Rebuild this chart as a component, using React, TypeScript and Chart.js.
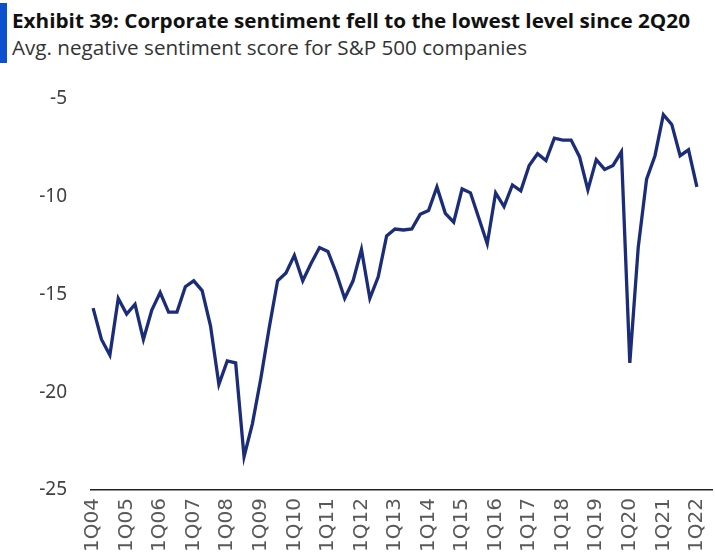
import { useEffect, useLayoutEffect, useRef } from "react";
import { Chart, registerables } from "chart.js";

Chart.register(...registerables);

const quarters = [
  "1Q04", "2Q04", "3Q04", "4Q04",
  "1Q05", "2Q05", "3Q05", "4Q05",
  "1Q06", "2Q06", "3Q06", "4Q06",
  "1Q07", "2Q07", "3Q07", "4Q07",
  "1Q08", "2Q08", "3Q08", "4Q08",
  "1Q09", "2Q09", "3Q09", "4Q09",
  "1Q10", "2Q10", "3Q10", "4Q10",
  "1Q11", "2Q11", "3Q11", "4Q11",
  "1Q12", "2Q12", "3Q12", "4Q12",
  "1Q13", "2Q13", "3Q13", "4Q13",
  "1Q14", "2Q14", "3Q14", "4Q14",
  "1Q15", "2Q15", "3Q15", "4Q15",
  "1Q16", "2Q16", "3Q16", "4Q16",
  "1Q17", "2Q17", "3Q17", "4Q17",
  "1Q18", "2Q18", "3Q18", "4Q18",
  "1Q19", "2Q19", "3Q19", "4Q19",
  "1Q20", "2Q20", "3Q20", "4Q20",
  "1Q21", "2Q21", "3Q21", "4Q21",
  "1Q22",
];

const sentiment = [
  -15.7, -17.3, -18.1, -15.2,
  -16.0, -15.5, -17.3, -15.8,
  -14.9, -15.9, -15.9, -14.6,
  -14.3, -14.8, -16.6, -19.6,
  -18.4, -18.5, -23.3, -21.6,
  -19.3, -16.7, -14.3, -13.9,
  -13.0, -14.3, -13.4, -12.6,
  -12.8, -13.9, -15.2, -14.3,
  -12.7, -15.2, -14.1, -12.0,
  -11.65, -11.7, -11.65, -10.9,
  -10.7, -9.5, -10.85, -11.3,
  -9.6, -9.8, -11.1, -12.4,
  -9.8, -10.5, -9.4, -9.7,
  -8.4, -7.8, -8.15, -7.0,
  -7.1, -7.1, -7.95, -9.65,
  -8.1, -8.6, -8.4, -7.7,
  -18.5, -12.6, -9.1, -7.9,
  -5.8, -6.3, -7.9, -7.6,
  -9.5,
];

const shownQuarters = [
  "1Q04", "1Q05", "1Q06", "1Q07", "1Q08", "1Q09", "1Q10", "1Q11", "1Q12", "1Q13",
  "1Q14", "1Q15", "1Q16", "1Q17", "1Q18", "1Q19", "1Q20", "1Q21", "1Q22",
];

const yTicks = [-25, -20, -15, -10, -5];

const titleText = "Exhibit 39: Corporate sentiment fell to the lowest level since 2Q20";
const subtitleText = "Avg. negative sentiment score for S&P 500 companies";

function fitWidth(el: HTMLElement | null, target: number) {
  if (!el) return;
  el.style.transform = "none";
  const w = el.getBoundingClientRect().width;
  if (w > 0) el.style.transform = `scaleX(${target / w})`;
}

export default function App() {
  const canvasRef = useRef<HTMLCanvasElement | null>(null);
  const titleRef = useRef<HTMLDivElement | null>(null);
  const subRef = useRef<HTMLDivElement | null>(null);

  useLayoutEffect(() => {
    const run = () => {
      fitWidth(titleRef.current, 678);
      fitWidth(subRef.current, 515);
    };
    run();
    if ((document as any).fonts && (document as any).fonts.ready) {
      (document as any).fonts.ready.then(run);
    }
  }, []);

  useEffect(() => {
    const canvas = canvasRef.current;
    if (!canvas) return;
    const chart = new Chart(canvas, {
      type: "line",
      data: {
        datasets: [
          {
            label: "Avg. negative sentiment score",
            data: sentiment.map((v, i) => ({ x: i, y: v })),
            borderColor: "#1b2c78",
            borderWidth: 3.3,
            pointRadius: 0,
            tension: 0,
            fill: false,
            borderJoinStyle: "miter",
          },
        ],
      },
      options: {
        responsive: false,
        animation: false,
        layout: { padding: { top: 29, left: 0, right: 3, bottom: 0 } },
        plugins: {
          legend: { display: false },
          tooltip: { enabled: false },
        },
        scales: {
          x: {
            type: "linear",
            min: -0.25,
            max: 73.8,
            afterBuildTicks: (s: any) => {
              s.ticks = shownQuarters.map((q) => ({ value: quarters.indexOf(q) }));
            },
            afterFit: (s: any) => {
              s.height = 80;
              s.paddingLeft = 0;
              s.paddingRight = 0;
            },
            grid: { display: false, drawTicks: false },
            border: { display: true, color: "#222", width: 1.6 },
            ticks: {
              autoSkip: false,
              maxRotation: 90,
              minRotation: 90,
              padding: 8,
              color: "#595959",
              font: { family: "DejaVu Sans", size: 20 },
              callback: (v: any) => quarters[Math.round(Number(v))] ?? "",
            },
          },
          y: {
            type: "linear",
            min: -25,
            max: -5,
            afterBuildTicks: (s: any) => {
              s.ticks = yTicks.map((v) => ({ value: v }));
            },
            afterFit: (s: any) => {
              s.width = 91;
              s.paddingTop = 0;
              s.paddingBottom = 0;
            },
            grid: { display: false, drawTicks: false },
            border: { display: false },
            ticks: {
              padding: 24,
              color: "#404040",
              font: { family: "Noto Sans", size: 19 },
              callback: (v: any) => String(v),
            },
          },
        },
      },
    });
    return () => chart.destroy();
  }, []);

  return (
    <div
      style={{
        position: "absolute",
        left: 0,
        top: 0,
        width: 715,
        height: 558,
        overflow: "hidden",
        background: "#fff",
      }}
    >
      <div
        style={{
          position: "absolute",
          left: 0,
          top: 3,
          width: 7,
          height: 60,
          background: "#0a50cf",
        }}
      />
      <div
        ref={titleRef}
        style={{
          position: "absolute",
          left: 12,
          top: 11,
          fontFamily: '"Open Sans", sans-serif',
          fontWeight: 700,
          fontSize: 20,
          lineHeight: "20px",
          color: "#111",
          whiteSpace: "nowrap",
          transformOrigin: "left top",
        }}
      >
        {titleText}
      </div>
      <div
        ref={subRef}
        style={{
          position: "absolute",
          left: 12,
          top: 38,
          fontFamily: '"Open Sans", sans-serif',
          fontWeight: 400,
          fontSize: 19.5,
          lineHeight: "19.5px",
          color: "#333",
          whiteSpace: "nowrap",
          transformOrigin: "left top",
        }}
      >
        {subtitleText}
      </div>
      <canvas
        ref={canvasRef}
        width={715}
        height={500}
        style={{ position: "absolute", left: 0, top: 70, width: 715, height: 500 }}
      />
    </div>
  );
}
